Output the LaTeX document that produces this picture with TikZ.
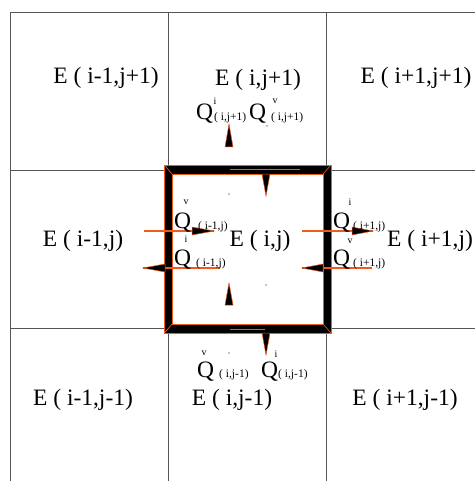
\documentclass[tikz,border=0pt]{standalone}
\usepackage{fontspec}
\setmainfont{Liberation Serif}
\definecolor{grid}{RGB}{85,85,85}
\definecolor{org}{RGB}{240,90,30}
\begin{document}
\begin{tikzpicture}[x=1pt,y=-1pt,
  gridline/.style={draw=grid,line width=0.9pt},
  big/.style={font=\fontsize{23.5}{23.5}\selectfont,inner sep=0pt},
  sml/.style={font=\fontsize{11.5}{11.5}\selectfont,inner sep=0pt},
  sup/.style={font=\fontsize{10}{10}\selectfont,inner sep=0pt},
  tri/.style={fill=black,draw=org,line width=0.5pt,line join=miter},
  flux/.style={draw=org,line width=1.1pt},
  dotmark/.style={fill=black}]
\useasboundingbox (0,0) rectangle (475,481);
% grid
\draw[gridline] (10,12) -- (475,12);
\draw[gridline] (10,170) -- (475,170);
\draw[gridline] (10,328) -- (475,328);
\draw[gridline] (10,12) -- (10,481);
\draw[gridline] (168,12) -- (168,481);
\draw[gridline] (326,12) -- (326,481);
% thick frame
\fill[black,even odd rule] (164.5,165) rectangle (331,333) (172,174) rectangle (323,324);
\draw[org,line width=1pt] (164.5,165) rectangle (331,333);
\draw[org,line width=0.7pt] (172,174) rectangle (323,324);
\draw[org,line width=0.6pt] (164.5,165) -- (172,174) (331,165) -- (323,174) (164.5,333) -- (172,324) (331,333) -- (323,324);
\draw[org,line width=0.5pt] (230,169) -- (300,169) (230,329.5) -- (265,329.5);
% coordinates
\coordinate (l1a) at (144,231); \coordinate (l1b) at (214,231);
\coordinate (l2a) at (143,268); \coordinate (l2b) at (220,268);
\coordinate (r1a) at (302,231); \coordinate (r1b) at (373,231);
\coordinate (r2a) at (302,268); \coordinate (r2b) at (372,268);
% flux lines
\draw[flux] (l1a) -- (l1b);
\draw[flux] (l2a) -- (l2b);
\draw[flux] (r1a) -- (r1b);
\draw[flux] (r2a) -- (r2b);
% triangles
\draw[tri] (192,227) -- (l1b) -- (192,235) -- cycle;
\draw[tri] (165,264) -- (l2a) -- (165,272) -- cycle;
\draw[tri] (352,227) -- (r1b) -- (352,235) -- cycle;
\draw[tri] (323,264) -- (r2a) -- (323,272) -- cycle;
\draw[tri] (262,174) -- (266,196) -- (270,174) -- cycle;
\draw[tri] (262,333) -- (266,355) -- (270,333) -- cycle;
\draw[tri] (225,147) -- (229,124) -- (233,147) -- cycle;
\draw[tri] (225,305) -- (229,283) -- (233,305) -- cycle;
% small dots
\fill[dotmark] (229,194) circle (0.6);
\fill[dotmark] (266,285) circle (0.6);
\fill[dotmark] (267,126) circle (0.6);
\fill[dotmark] (229,353) circle (0.6);
% cell labels
\node[big] (e11) at (106,78) {E ( i-1,j+1)};
\node[big] (e21) at (258,80) {E ( i,j+1)};
\node[big] (e31) at (416,78) {E ( i+1,j+1)};
\node[big] (e12) at (83,241) {E ( i-1,j)};
\node[big] (e22) at (260,241) {E ( i,j)};
\node[big] (e32) at (430,241) {E ( i+1,j)};
\node[big] (e13) at (83,400) {E ( i-1,j-1)};
\node[big] (e23) at (232,400) {E ( i,j-1)};
\node[big] (e33) at (405,400) {E ( i+1,j-1)};
% left Q labels
\node[big,anchor=base west] (ql1) at (174,228) {Q};
\node[sup] (ql1s) at (186,202) {v};
\node[sml,anchor=base west] (ql1b) at (198,229) {( i-1,j)};
\node[big,anchor=base west] (ql2) at (174,265) {Q};
\node[sup] (ql2s) at (186,239) {i};
\node[sml,anchor=base west] (ql2b) at (196,266) {( i-1,j)};
% right Q labels
\node[big,anchor=base west] (qr1) at (333,228) {Q};
\node[sup] (qr1s) at (350,202) {i};
\node[sml,anchor=base west] (qr1b) at (353,229) {( i+1,j)};
\node[big,anchor=base west] (qr2) at (333,265) {Q};
\node[sup] (qr2s) at (350,241) {v};
\node[sml,anchor=base west] (qr2b) at (353,266) {( i+1,j)};
% top Q labels
\node[big,anchor=base west] (qt1) at (196,120) {Q};
\node[sup] (qt1s) at (215,101) {i};
\node[sml,anchor=base west] (qt1b) at (214,121) {( i,j+1)};
\node[big,anchor=base west] (qt2) at (249,120) {Q};
\node[sup] (qt2s) at (275,101) {v};
\node[sml,anchor=base west] (qt2b) at (271,121) {( i,j+1)};
% bottom Q labels
\node[big,anchor=base west] (qb1) at (197,377) {Q};
\node[sup] (qb1s) at (204,353) {v};
\node[sml,anchor=base west] (qb1b) at (219,377) {( i,j-1)};
\node[big,anchor=base west] (qb2) at (261,377) {Q};
\node[sup] (qb2s) at (276,354) {i};
\node[sml,anchor=base west] (qb2b) at (278,377) {( i,j-1)};
\end{tikzpicture}
\end{document}
